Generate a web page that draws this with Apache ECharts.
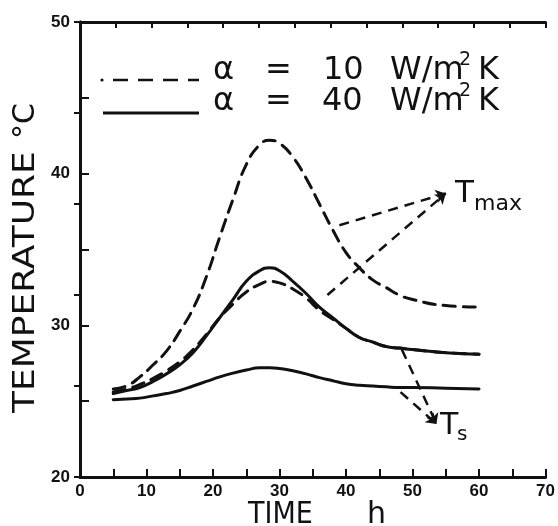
<!DOCTYPE html>
<html>
<head>
<meta charset="utf-8">
<script src="https://cdn.jsdelivr.net/npm/echarts@6.0.0/dist/echarts.min.js"></script>
<style>
    html, body { margin: 0; padding: 0; background: #fff; }
    #chart { width: 558px; height: 526px; }
</style>
</head>
<body>
<div id="chart"></div>
<script>
// time axis (h), shared by all four curves
const times = [5, 7, 9, 11, 13, 15, 17, 19, 21, 23, 25, 27, 28.5, 30, 32, 34, 36, 38, 40, 42, 44, 46, 48, 50, 55, 60];

// alpha = 10 W/m2K (dashed)
const tmax10 = [25.8, 26.0, 26.6, 27.4, 28.3, 29.6, 31.1, 33.2, 35.8, 38.3, 40.6, 41.9, 42.2, 42.0, 41.1, 39.7, 38.0, 36.3, 34.8, 33.8, 33.0, 32.5, 32.0, 31.7, 31.3, 31.2];
const ts10 = [25.6, 25.8, 26.1, 26.5, 27.0, 27.6, 28.4, 29.4, 30.5, 31.4, 32.2, 32.7, 32.9, 32.8, 32.4, 31.8, 31.0, 30.4, 29.8, 29.2, 28.9, 28.6, 28.5, 28.4, 28.2, 28.1];

// alpha = 40 W/m2K (solid)
const tmax40 = [25.5, 25.7, 25.9, 26.3, 26.8, 27.4, 28.2, 29.3, 30.5, 31.7, 32.9, 33.6, 33.8, 33.6, 32.9, 32.1, 31.2, 30.5, 29.8, 29.2, 28.9, 28.6, 28.5, 28.4, 28.2, 28.1];
const ts40 = [25.1, 25.15, 25.2, 25.35, 25.5, 25.7, 26.0, 26.3, 26.6, 26.85, 27.05, 27.2, 27.2, 27.15, 27.0, 26.8, 26.55, 26.35, 26.15, 26.05, 26.0, 25.95, 25.9, 25.9, 25.85, 25.8];

// annotation arrows (data coordinates)
const tmaxArrowStarts = [[39.0, 36.6], [37.2, 32.0]];
const tmaxArrowTip = [55.0, 38.7];
const tsArrowStarts = [[48.4, 28.4], [48.2, 25.6]];
const tsArrowTip = [53.6, 23.5];

const xTicks = [0, 10, 20, 30, 40, 50, 60, 70];
const yTicks = [20, 30, 40, 50];

const INK = '#111';
const DASH = [12, 8];
const FONT = 'DejaVu Sans';

const pairs = (xs, ys) => xs.map((x, i) => [x, ys[i]]);

const arrows = (starts, tip) => starts.map(s => [{ coord: s }, { coord: tip }]);

function curve(name, values, dashed) {
    return {
        name: name,
        type: 'line',
        data: pairs(times, values),
        smooth: 0.5,
        symbol: 'none',
        silent: true,
        lineStyle: {
            color: INK,
            width: 3,
            type: dashed ? DASH : 'solid',
            cap: 'round',
            join: 'round'
        }
    };
}

function txt(text, x, y, size, extra) {
    return Object.assign({
        type: 'text',
        x: x,
        y: y,
        silent: true,
        style: {
            text: text,
            font: size + 'px "' + FONT + '"',
            fill: INK,
            textAlign: 'left',
            align: 'left',
            textVerticalAlign: 'middle',
            verticalAlign: 'middle'
        }
    }, extra || {});
}

const chart = echarts.init(document.getElementById('chart'), null, { renderer: 'canvas' });

const tmax10Series = curve('Tmax a=10', tmax10, true);
tmax10Series.markLine = {
    silent: true,
    symbol: ['none', 'arrow'],
    symbolSize: 10,
    label: { show: false },
    lineStyle: { color: INK, width: 2.5, type: [10, 7] },
    data: arrows(tmaxArrowStarts, tmaxArrowTip).concat(arrows(tsArrowStarts, tsArrowTip))
};

const option = {
    animation: false,
    backgroundColor: '#fff',
    grid: {
        left: 80,
        right: 11,
        top: 22,
        bottom: 49
    },
    xAxis: [
        {
            type: 'value',
            position: 'bottom',
            min: 0,
            max: 70,
            interval: 5,
            axisLine: { show: true, lineStyle: { color: INK, width: 3 } },
            axisTick: { show: true, inside: true, length: 8, lineStyle: { color: INK, width: 2 } },
            axisLabel: {
                color: INK,
                fontFamily: 'Liberation Sans',
                fontWeight: 'bold',
                fontSize: 17,
                margin: 6,
                formatter: v => (xTicks.indexOf(v) >= 0 ? String(v) : '')
            },
            splitLine: { show: false }
        },
        {
            type: 'value',
            position: 'top',
            min: 0,
            max: 13,
            interval: 1,
            axisLine: { show: true, lineStyle: { color: INK, width: 3 } },
            axisTick: { show: true, inside: true, length: 6, lineStyle: { color: INK, width: 2 } },
            axisLabel: { show: false },
            splitLine: { show: false }
        }
    ],
    yAxis: [
        {
            type: 'value',
            position: 'left',
            min: 20,
            max: 50,
            interval: 5,
            axisLine: { show: true, lineStyle: { color: INK, width: 3 } },
            axisTick: { show: true, inside: true, length: 9, lineStyle: { color: INK, width: 2 } },
            axisLabel: {
                color: INK,
                fontFamily: 'Liberation Sans',
                fontWeight: 'bold',
                fontSize: 17,
                margin: 10,
                formatter: v => (yTicks.indexOf(v) >= 0 ? String(v) : '')
            },
            splitLine: { show: false }
        },
        {
            type: 'value',
            position: 'right',
            min: 0,
            max: 5,
            interval: 1,
            axisLine: { show: true, lineStyle: { color: INK, width: 3 } },
            axisTick: { show: true, inside: true, length: 6, lineStyle: { color: INK, width: 2 } },
            axisLabel: { show: false },
            splitLine: { show: false }
        }
    ],
    series: [
        tmax10Series,
        curve('Ts a=10', ts10, true),
        curve('Tmax a=40', tmax40, false),
        curve('Ts a=40', ts40, false)
    ],
    graphic: [
        // legend samples
        { type: 'circle', silent: true, shape: { cx: 102, cy: 80, r: 1.6 }, style: { fill: INK } },
        {
            type: 'line', silent: true,
            shape: { x1: 113, y1: 80, x2: 199, y2: 80 },
            style: { stroke: INK, lineWidth: 2.5, lineDash: [15, 10] }
        },
        {
            type: 'line', silent: true,
            shape: { x1: 103, y1: 113, x2: 199, y2: 113 },
            style: { stroke: INK, lineWidth: 3 }
        },
        // legend text, line 1
        txt('α', 213, 71, 32),
        txt('=', 265, 71, 32),
        txt('10', 323, 71, 32),
        txt('W/m', 390, 71, 32),
        txt('2', 459, 60, 19),
        txt('K', 478, 71, 32),
        // legend text, line 2
        txt('α', 213, 102, 32),
        txt('=', 265, 102, 32),
        txt('40', 322, 102, 32),
        txt('W/m', 390, 102, 32),
        txt('2', 459, 91, 19),
        txt('K', 478, 102, 32),
        // curve labels
        txt('T', 455, 194, 31),
        txt('max', 474, 204, 22),
        txt('T', 440, 426, 30),
        txt('s', 457, 435, 20),
        // axis titles
        txt('TIME', 248, 515, 30, { scaleX: 0.9 }),
        txt('h', 367, 515, 30),
        txt('TEMPERATURE', 26, 413, 30, { rotation: Math.PI / 2, scaleX: 1.2 }),
        txt('°C', 26, 139, 30, { rotation: Math.PI / 2 })
    ]
};

chart.setOption(option);
</script>
</body>
</html>
